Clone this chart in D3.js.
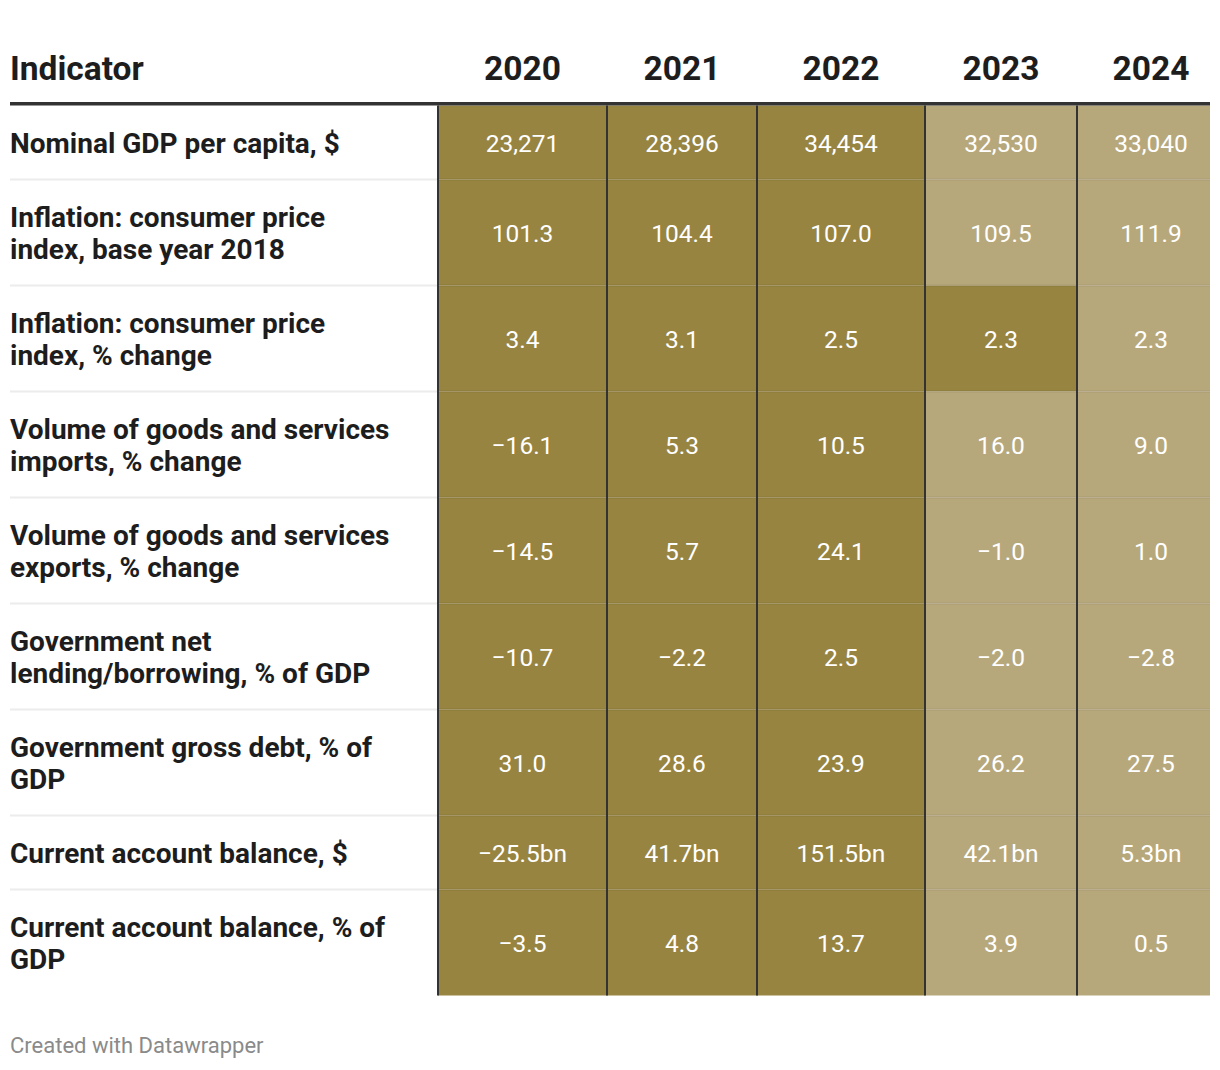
<!DOCTYPE html>
<html><head><meta charset="utf-8">
<script src="https://cdn.jsdelivr.net/npm/d3@7"></script>
<style>body{margin:0;background:#fff;} svg text{font-family:Roboto, "Noto Sans", sans-serif;}</style>
</head><body><svg id="chart" width="1220" height="1070"></svg>
<script>
// ---------------- data ----------------
const headerLabel = "Indicator";
const years = ["2020", "2021", "2022", "2023", "2024"];
const indicators = [
  "Nominal GDP per capita, $",
  "Inflation: consumer price\nindex, base year 2018",
  "Inflation: consumer price\nindex, % change",
  "Volume of goods and services\nimports, % change",
  "Volume of goods and services\nexports, % change",
  "Government net\nlending/borrowing, % of GDP",
  "Government gross debt, % of\nGDP",
  "Current account balance, $",
  "Current account balance, % of\nGDP"
];
const suffixes = ["", "", "", "", "", "", "", "bn", ""];
const formats = [",.0f", ".1f", ".1f", ".1f", ".1f", ".1f", ".1f", ".1f", ".1f"];
const v2020 = [23271, 101.3, 3.4, -16.1, -14.5, -10.7, 31.0, -25.5, -3.5];
const v2021 = [28396, 104.4, 3.1, 5.3, 5.7, -2.2, 28.6, 41.7, 4.8];
const v2022 = [34454, 107.0, 2.5, 10.5, 24.1, 2.5, 23.9, 151.5, 13.7];
const v2023 = [32530, 109.5, 2.3, 16.0, -1.0, -2.0, 26.2, 42.1, 3.9];
const v2024 = [33040, 111.9, 2.3, 9.0, 1.0, -2.8, 27.5, 5.3, 0.5];
// shading category per cell: "A" = dark, "B" = light
const c2020 = ["A", "A", "A", "A", "A", "A", "A", "A", "A"];
const c2021 = ["A", "A", "A", "A", "A", "A", "A", "A", "A"];
const c2022 = ["A", "A", "A", "A", "A", "A", "A", "A", "A"];
const c2023 = ["B", "B", "A", "B", "B", "B", "B", "B", "B"];
const c2024 = ["B", "B", "B", "B", "B", "B", "B", "B", "B"];
const footer = "Created with Datawrapper";

const values = [v2020, v2021, v2022, v2023, v2024];
const cats = [c2020, c2021, c2022, c2023, c2024];

// ---------------- layout ----------------
const svg = d3.select("#chart");
const left = 10, right = 1210;
const colEdges = [438, 607, 757, 925, 1077, 1210];
const textPadRight = [0, 0, 0, 0, 15];
const headerLineY = 102, headerLineH = 3.5;
const tableTop = headerLineY + headerLineH;
const lineH = 32, rowPad = 42;

const colorScale = d3.scaleOrdinal().domain(["A", "B"]).range(["#978441", "#b7a87b"]);

const lines = indicators.map(s => s.split("\n"));
const heights = lines.map(l => rowPad + lineH * l.length);
const rowTops = [];
let acc = tableTop;
heights.forEach(h => { rowTops.push(acc); acc += h; });
const tableBottom = acc;

const colX0 = i => colEdges[i];
const colX1 = i => colEdges[i + 1];
const colC = i => (colX0(i) + colX1(i) + textPadRight[i]) / 2;

// cells
years.forEach((yr, ci) => {
  const g = svg.append("g");
  g.selectAll("rect").data(indicators).join("rect")
    .attr("x", colX0(ci)).attr("width", colX1(ci) - colX0(ci))
    .attr("y", (d, ri) => rowTops[ri]).attr("height", (d, ri) => heights[ri])
    .attr("fill", (d, ri) => colorScale(cats[ci][ri]));
});

// row separators
rowTops.slice(1).forEach(y => {
  svg.append("rect").attr("x", left).attr("width", colEdges[0] - left)
    .attr("y", y - 1).attr("height", 2).attr("fill", "#ececec");
  svg.append("rect").attr("x", colEdges[0]).attr("width", right - colEdges[0])
    .attr("y", y - 1).attr("height", 2).attr("fill", "rgba(0,0,0,0.07)");
});

// vertical lines
colEdges.slice(0, 5).forEach(x => {
  svg.append("rect").attr("x", x - 1).attr("width", 2)
    .attr("y", tableTop).attr("height", tableBottom - tableTop).attr("fill", "#333333");
});

// header line
svg.append("rect").attr("x", left).attr("width", right - left)
  .attr("y", headerLineY).attr("height", headerLineH).attr("fill", "#333333");

// header text
svg.append("text").attr("x", left).attr("y", 80)
  .attr("font-size", 33.5).attr("font-weight", 700).attr("fill", "#1d1d1d").text(headerLabel);
svg.append("g").selectAll("text").data(years).join("text")
  .attr("x", (d, i) => colC(i)).attr("y", 80).attr("text-anchor", "middle")
  .attr("font-size", 33.5).attr("font-weight", 700).attr("fill", "#1d1d1d").text(d => d);

// labels
indicators.forEach((lab, ri) => {
  const center = rowTops[ri] + heights[ri] / 2;
  const ls = lines[ri];
  const t = svg.append("text").attr("font-size", 28).attr("font-weight", 700).attr("fill", "#1d1d1d");
  ls.forEach((l, li) => {
    t.append("tspan").attr("x", left)
      .attr("y", center + 10 + (li - (ls.length - 1) / 2) * lineH).text(l);
  });
});

// values
years.forEach((yr, ci) => {
  svg.append("g").selectAll("text").data(values[ci]).join("text")
    .attr("x", colC(ci))
    .attr("y", (d, ri) => rowTops[ri] + heights[ri] / 2 + 9.5)
    .attr("text-anchor", "middle").attr("font-size", 24.5).attr("font-weight", 400)
    .attr("fill", "#ffffff")
    .text((d, ri) => d3.format(formats[ri])(d) + suffixes[ri]);
});

// footer
svg.append("text").attr("x", left).attr("y", 1053).attr("font-size", 22)
  .attr("fill", "#8a8a8a").text(footer);
</script>
</body></html>
